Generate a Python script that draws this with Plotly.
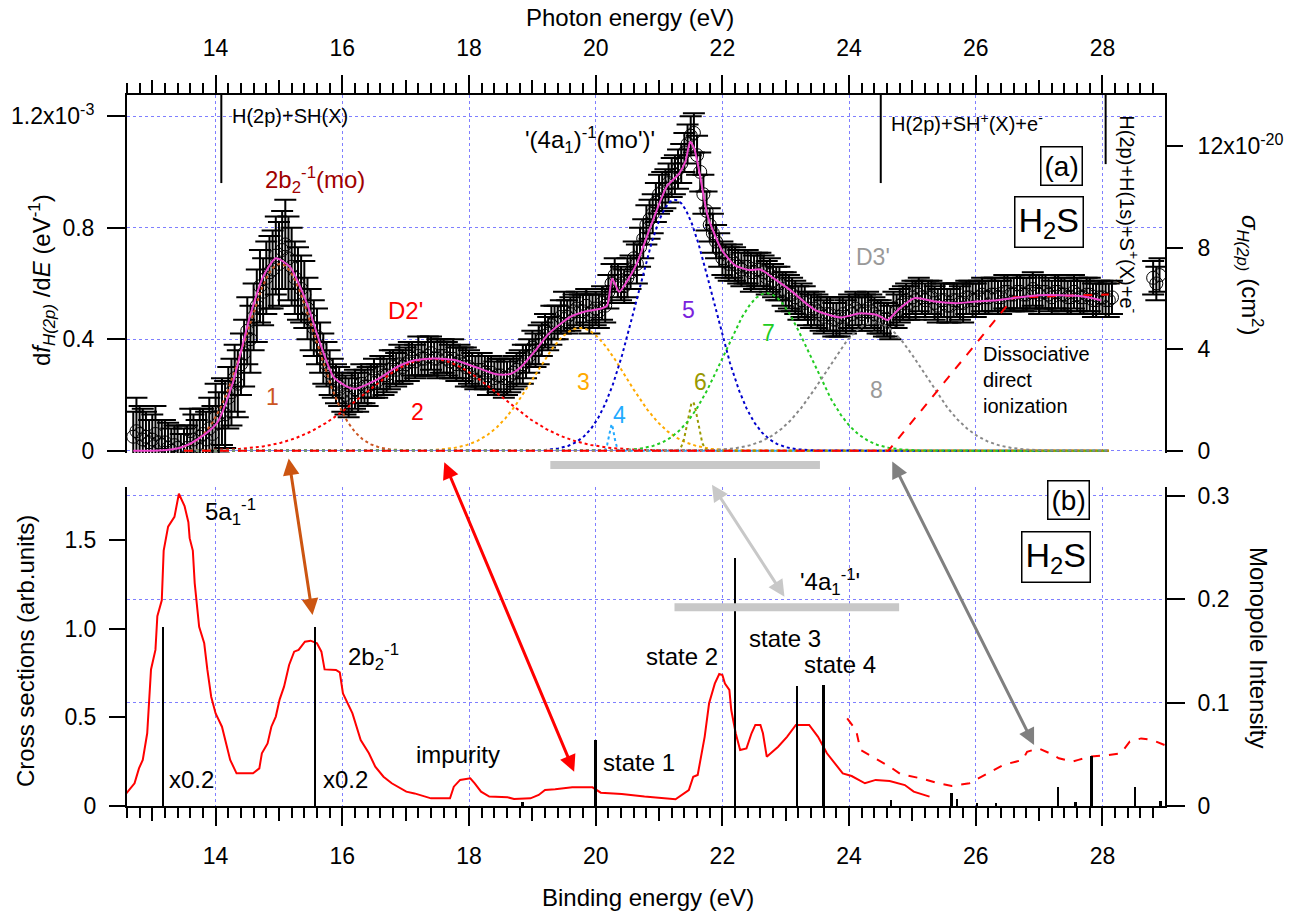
import numpy as np
import plotly.graph_objects as go

FONT = "Liberation Sans, Arial, Helvetica, sans-serif"
GRID = "#7f7fff"

# ---------------- panel (a): H(2p) emission ----------------
photon_energy = [round(12.7 + 0.05 * i, 2) for i in range(310)] + [28.80, 28.85, 28.90]

# df_H(2p)/dE in units of 1e-3 eV^-1
dfdE = [0.05, 0.07, 0.06, 0.04, 0.05, 0.03, 0.04, 0.06, 0.03, 0.02,
        0.03, 0.01, 0.00, 0.02, 0.01, -0.01, 0.00, 0.01, 0.07, 0.04,
        0.02, 0.05, 0.06, 0.04, 0.08, 0.06, 0.12, 0.10, 0.14, 0.13,
        0.19, 0.21, 0.26, 0.24, 0.31, 0.35, 0.43, 0.40, 0.48, 0.52,
        0.59, 0.57, 0.62, 0.64, 0.65, 0.70, 0.67, 0.72, 0.74, 0.69,
        0.66, 0.62, 0.60, 0.58, 0.56, 0.51, 0.47, 0.44, 0.41, 0.37,
        0.33, 0.31, 0.28, 0.26, 0.24, 0.23, 0.21, 0.20, 0.19, 0.21,
        0.22, 0.21, 0.24, 0.23, 0.23, 0.25, 0.26, 0.25, 0.28, 0.27,
        0.27, 0.29, 0.30, 0.29, 0.31, 0.30, 0.31, 0.32, 0.33, 0.32,
        0.34, 0.33, 0.33, 0.34, 0.35, 0.33, 0.33, 0.34, 0.34, 0.33,
        0.32, 0.33, 0.31, 0.32, 0.31, 0.30, 0.30, 0.29, 0.28, 0.29,
        0.29, 0.28, 0.27, 0.28, 0.26, 0.27, 0.27, 0.26, 0.26, 0.27,
        0.28, 0.29, 0.30, 0.31, 0.32, 0.34, 0.37, 0.36, 0.38, 0.40,
        0.43, 0.42, 0.45, 0.46, 0.46, 0.48, 0.50, 0.48, 0.49, 0.50,
        0.51, 0.50, 0.50, 0.52, 0.49, 0.50, 0.51, 0.50, 0.53, 0.52,
        0.57, 0.60, 0.63, 0.61, 0.60, 0.59, 0.62, 0.64, 0.69, 0.67,
        0.73, 0.76, 0.81, 0.83, 0.85, 0.89, 0.92, 0.93, 0.94, 0.96,
        0.98, 0.99, 1.01, 1.03, 1.07, 1.10, 1.13, 1.14, 1.06, 1.00,
        0.92, 0.86, 0.81, 0.78, 0.75, 0.72, 0.69, 0.68, 0.67, 0.68,
        0.67, 0.66, 0.65, 0.66, 0.66, 0.64, 0.64, 0.65, 0.65, 0.64,
        0.62, 0.63, 0.61, 0.60, 0.60, 0.58, 0.57, 0.57, 0.56, 0.55,
        0.53, 0.54, 0.53, 0.51, 0.50, 0.51, 0.50, 0.49, 0.48, 0.49,
        0.49, 0.47, 0.47, 0.48, 0.49, 0.48, 0.50, 0.49, 0.51, 0.50,
        0.49, 0.50, 0.51, 0.50, 0.49, 0.48, 0.48, 0.47, 0.47, 0.46,
        0.51, 0.50, 0.52, 0.53, 0.54, 0.53, 0.55, 0.54, 0.56, 0.55,
        0.54, 0.55, 0.55, 0.53, 0.52, 0.54, 0.54, 0.52, 0.52, 0.54,
        0.54, 0.53, 0.53, 0.55, 0.55, 0.54, 0.54, 0.55, 0.56, 0.55,
        0.55, 0.56, 0.56, 0.55, 0.55, 0.57, 0.57, 0.56, 0.56, 0.57,
        0.57, 0.56, 0.56, 0.57, 0.58, 0.57, 0.56, 0.57, 0.57, 0.56,
        0.55, 0.57, 0.57, 0.56, 0.56, 0.55, 0.55, 0.57, 0.56, 0.55,
        0.55, 0.56, 0.56, 0.54, 0.54, 0.55, 0.55, 0.54, 0.54, 0.55,
        0.62, 0.60, 0.63]

dfdE_err = [0.09, 0.12, 0.10, 0.11, 0.09, 0.08, 0.09, 0.10, 0.08, 0.09,
            0.08, 0.09, 0.08, 0.07, 0.08, 0.07, 0.08, 0.08, 0.08, 0.09,
            0.09, 0.10, 0.09, 0.10, 0.11, 0.10, 0.12, 0.11, 0.12, 0.12,
            0.11, 0.12, 0.12, 0.12, 0.11, 0.12, 0.12, 0.12, 0.12, 0.13,
            0.13, 0.12, 0.13, 0.13, 0.14, 0.14, 0.15, 0.14, 0.16, 0.15,
            0.14, 0.13, 0.13, 0.12, 0.12, 0.11, 0.11, 0.10, 0.10, 0.09,
            0.09, 0.08, 0.08, 0.07, 0.07, 0.07, 0.07, 0.07, 0.07, 0.07,
            0.07, 0.07, 0.07, 0.06, 0.07, 0.06, 0.07, 0.06, 0.06, 0.07,
            0.06, 0.07, 0.06, 0.06, 0.07, 0.06, 0.06, 0.07, 0.06, 0.06,
            0.07, 0.06, 0.06, 0.07, 0.06, 0.06, 0.07, 0.06, 0.06, 0.06,
            0.06, 0.07, 0.06, 0.06, 0.06, 0.07, 0.06, 0.06, 0.06, 0.06,
            0.06, 0.06, 0.07, 0.06, 0.06, 0.06, 0.06, 0.07, 0.06, 0.06,
            0.06, 0.06, 0.06, 0.07, 0.06, 0.06, 0.06, 0.06, 0.07, 0.06,
            0.06, 0.06, 0.07, 0.06, 0.06, 0.06, 0.07, 0.06, 0.06, 0.06,
            0.06, 0.06, 0.06, 0.06, 0.07, 0.06, 0.06, 0.06, 0.06, 0.06,
            0.06, 0.07, 0.06, 0.06, 0.06, 0.06, 0.07, 0.06, 0.06, 0.07,
            0.07, 0.07, 0.07, 0.07, 0.07, 0.07, 0.07, 0.07, 0.07, 0.07,
            0.07, 0.07, 0.07, 0.07, 0.07, 0.07, 0.07, 0.07, 0.07, 0.07,
            0.07, 0.07, 0.06, 0.07, 0.06, 0.06, 0.06, 0.06, 0.06, 0.06,
            0.06, 0.06, 0.06, 0.06, 0.06, 0.07, 0.06, 0.06, 0.06, 0.06,
            0.06, 0.06, 0.06, 0.06, 0.06, 0.06, 0.07, 0.06, 0.06, 0.06,
            0.06, 0.06, 0.06, 0.06, 0.06, 0.06, 0.06, 0.06, 0.06, 0.06,
            0.06, 0.06, 0.06, 0.07, 0.06, 0.06, 0.06, 0.06, 0.06, 0.06,
            0.06, 0.06, 0.06, 0.06, 0.06, 0.06, 0.06, 0.06, 0.06, 0.06,
            0.06, 0.06, 0.06, 0.06, 0.06, 0.06, 0.06, 0.07, 0.06, 0.06,
            0.06, 0.06, 0.06, 0.06, 0.06, 0.06, 0.06, 0.06, 0.06, 0.06,
            0.06, 0.06, 0.07, 0.06, 0.06, 0.06, 0.06, 0.06, 0.06, 0.06,
            0.06, 0.06, 0.06, 0.06, 0.06, 0.06, 0.06, 0.06, 0.06, 0.06,
            0.06, 0.06, 0.06, 0.06, 0.06, 0.06, 0.07, 0.06, 0.06, 0.06,
            0.06, 0.06, 0.06, 0.06, 0.06, 0.06, 0.06, 0.06, 0.06, 0.06,
            0.06, 0.06, 0.06, 0.06, 0.06, 0.06, 0.06, 0.06, 0.06, 0.06,
            0.06, 0.06, 0.06]

# total fit (1e-3 eV^-1)
fit_x = [12.7, 13.0, 13.3, 13.5, 13.75, 14.02, 14.27, 14.54, 14.75, 14.95, 15.17,
         15.44, 15.65, 15.86, 16.07, 16.2, 16.54, 16.86, 17.1, 17.44, 17.77, 18.1,
         18.43, 18.65, 18.82, 19.05, 19.26, 19.6, 19.85, 20.09, 20.18, 20.26, 20.37,
         20.5, 20.65, 20.86, 21.12, 21.32, 21.42, 21.49, 21.56, 21.64, 21.77, 21.99,
         22.2, 22.42, 22.6, 22.8, 23.07, 23.46, 23.86, 24.18, 24.44, 24.61, 24.77,
         25.03, 25.36, 25.69, 26.0, 26.34, 27.0, 27.64, 27.98]
fit_y = [0.0, 0.0, 0.004, 0.015, 0.046, 0.099, 0.243, 0.48, 0.624, 0.69, 0.66,
         0.529, 0.385, 0.265, 0.23, 0.222, 0.254, 0.30, 0.322, 0.331, 0.325, 0.30,
         0.274, 0.275, 0.30, 0.36, 0.42, 0.48, 0.50, 0.51, 0.52, 0.618, 0.57,
         0.61, 0.672, 0.80, 0.947, 0.995, 1.04, 1.108, 1.08, 0.995, 0.84, 0.72,
         0.665, 0.648, 0.65, 0.62, 0.576, 0.505, 0.478, 0.493, 0.487, 0.469, 0.505,
         0.547, 0.535, 0.529, 0.535, 0.54, 0.558, 0.555, 0.54]

# Gaussian components 1-8 (centre eV, height 1e-3 eV^-1, sigma eV)
comp_center = [15.02, 17.40, 19.75, 20.25, 21.25, 21.53, 22.70, 24.40]
comp_height = [0.67, 0.33, 0.44, 0.095, 0.90, 0.175, 0.565, 0.46]
comp_sigma = [0.55, 1.07, 0.72, 0.04, 0.60, 0.08, 0.68, 0.78]
comp_color = ["#cc5522", "#ff0000", "#ffaa00", "#22aaff", "#0000cc", "#999900", "#22cc22", "#888888"]
comp_label_color = ["#cc5522", "#ff0000", "#ffaa00", "#22aaff", "#7a22dd", "#999900", "#22cc22", "#999999"]
comp_label_x = [14.89, 17.19, 19.80, 20.37, 21.47, 21.65, 22.73, 24.44]
comp_label_y = [0.193, 0.140, 0.247, 0.128, 0.505, 0.247, 0.421, 0.218]

# dissociative direct ionization onset (1e-3 eV^-1)
di_x = [13.5, 24.62, 26.60, 28.10]
di_y = [0.0, 0.0, 0.55, 0.56]

# dissociation thresholds (eV) and lower ends of their markers (1e-3 eV^-1)
thr_energy = [14.09, 24.50, 28.05]
thr_bottom = [0.96, 0.96, 1.028]

# ---------------- panel (b): photoelectron spectrum ----------------
pes_x = [12.59, 12.72, 12.79, 12.85, 12.92, 12.98, 13.05, 13.08, 13.15, 13.18, 13.25,
         13.35, 13.42, 13.51, 13.57, 13.59, 13.64, 13.67, 13.74, 13.82, 13.87, 13.93,
         14.0, 14.1, 14.23, 14.33, 14.59, 14.69, 14.73, 14.82, 14.88, 14.95, 15.01,
         15.08, 15.16, 15.24, 15.31, 15.41, 15.5, 15.6, 15.67, 15.72, 15.9, 15.96,
         16.01, 16.16, 16.29, 16.42, 16.52, 16.65, 16.78, 17.01, 17.14, 17.4, 17.7,
         17.76, 17.86, 18.02, 18.09, 18.19, 18.32, 18.61, 18.71, 18.97, 19.1, 19.2,
         19.36, 19.63, 19.95, 20.08, 20.41, 20.77, 21.26, 21.47, 21.54, 21.61, 21.72,
         21.79, 21.88, 21.95, 22.0, 22.04, 22.11, 22.14, 22.21, 22.28, 22.38, 22.46,
         22.52, 22.6, 22.64, 22.7, 22.88, 23.02, 23.16, 23.37, 23.51, 23.65, 23.9,
         24.04, 24.25, 24.42, 24.64, 24.88, 25.02, 25.27]
pes_y = [0.071, 0.128, 0.212, 0.26, 0.41, 0.77, 0.88, 1.07, 1.16, 1.44, 1.575,
         1.63, 1.76, 1.69, 1.60, 1.51, 1.44, 1.255, 1.01, 0.917, 0.767, 0.616,
         0.522, 0.447, 0.26, 0.184, 0.184, 0.212, 0.297, 0.353, 0.447, 0.504, 0.60,
         0.673, 0.795, 0.87, 0.88, 0.926, 0.932, 0.917, 0.87, 0.77, 0.767, 0.753,
         0.635, 0.522, 0.372, 0.297, 0.222, 0.165, 0.128, 0.081, 0.071, 0.043, 0.043,
         0.109, 0.147, 0.156, 0.128, 0.081, 0.053, 0.049, 0.039, 0.043, 0.062, 0.09,
         0.094, 0.105, 0.105, 0.075, 0.068, 0.053, 0.038, 0.09, 0.165, 0.175, 0.39,
         0.579, 0.69, 0.744, 0.738, 0.69, 0.654, 0.541, 0.41, 0.316, 0.325, 0.41,
         0.457, 0.457, 0.41, 0.278, 0.334, 0.39, 0.457, 0.457, 0.39, 0.297, 0.184,
         0.169, 0.128, 0.147, 0.141, 0.118, 0.081, 0.053]

pes_hi_x = [23.97, 24.11, 24.18, 24.36, 24.64, 24.81, 25.13, 25.41, 25.62, 25.9, 26.18,
            26.43, 26.74, 26.81, 26.99, 27.17, 27.31, 27.52, 27.62, 27.8, 28.08, 28.29,
            28.43, 28.61, 28.78, 28.98]
pes_hi_y = [0.494, 0.428, 0.316, 0.278, 0.222, 0.18, 0.156, 0.128, 0.113, 0.128, 0.184,
            0.231, 0.26, 0.306, 0.325, 0.297, 0.269, 0.25, 0.26, 0.278, 0.287, 0.297,
            0.363, 0.381, 0.372, 0.344]

# monopole intensities of the calculated states
stick_x = [13.17, 15.57, 18.85, 20.0, 22.2, 23.18, 23.6, 24.67, 25.62, 25.71, 26.02,
           26.32, 27.3, 27.58, 27.83, 28.52, 28.92]
stick_h = [0.174, 0.174, 0.004, 0.0645, 0.24, 0.116, 0.117, 0.006, 0.013, 0.0075, 0.003,
           0.003, 0.019, 0.004, 0.049, 0.019, 0.005]

# energy ranges marked by grey bands (eV)
band_lo = [19.26, 21.22]
band_hi = [23.54, 24.79]

# correspondence arrows, ends in cross-section units of panel (b)
arrow_x0 = [15.15, 17.60, 21.82, 24.67]
arrow_y0 = [1.967, 1.946, 1.82, 1.95]
arrow_x1 = [15.53, 19.66, 22.98, 26.92]
arrow_y1 = [1.077, 0.193, 1.18, 0.344]
arrow_color = ["#cc5511", "#ff0000", "#c8c8c8", "#808080"]

# ---------------- figure ----------------
XR = [12.601, 28.987]
YA = [-0.00825e-3, 1.2759e-3]
YA_R = [-0.0906e-20, 14.018e-20]

fig = go.Figure()

e_a = np.array(photon_energy)
fig.add_trace(go.Scatter(
    x=e_a, y=np.array(dfdE) * 1e-3, mode="markers", xaxis="x2", yaxis="y3",
    marker=dict(symbol="circle-open", size=13, color="black", line=dict(width=1)),
    error_y=dict(type="data", array=np.array(dfdE_err) * 1e-3, color="black",
                 thickness=2, width=11),
    showlegend=False))

grid_e = np.linspace(13.5, 28.1, 1461)
for c, h, s, col in zip(comp_center, comp_height, comp_sigma, comp_color):
    g = h * 1e-3 * np.exp(-0.5 * ((grid_e - c) / s) ** 2)
    fig.add_trace(go.Scatter(x=grid_e, y=g, mode="lines", xaxis="x2", yaxis="y3",
                             line=dict(color=col, width=2, dash="dot"), showlegend=False))

fig.add_trace(go.Scatter(x=di_x, y=np.array(di_y) * 1e-3, mode="lines", xaxis="x2", yaxis="y3",
                         line=dict(color="#ff0000", width=2, dash="dash"), showlegend=False))

fig.add_trace(go.Scatter(x=fit_x, y=np.array(fit_y) * 1e-3, mode="lines", xaxis="x2", yaxis="y3",
                         line=dict(color="#ee44cc", width=2, shape="spline", smoothing=0.6),
                         showlegend=False))

fig.add_trace(go.Scatter(x=pes_x, y=pes_y, mode="lines", xaxis="x", yaxis="y",
                         line=dict(color="#ff0000", width=2), showlegend=False))
fig.add_trace(go.Scatter(x=pes_hi_x, y=pes_hi_y, mode="lines", xaxis="x", yaxis="y",
                         line=dict(color="#ff0000", width=2, dash="dash"), showlegend=False))
fig.add_trace(go.Bar(x=stick_x, y=stick_h, width=0.028, xaxis="x", yaxis="y2",
                     marker=dict(color="black", line=dict(width=0)), showlegend=False))

# empty traces so that the secondary axes get drawn
for xa, ya in [("x2", "y4"), ("x3", "y"), ("x4", "y3")]:
    fig.add_trace(go.Scatter(x=[], y=[], xaxis=xa, yaxis=ya, showlegend=False,
                             hoverinfo="skip"))

# threshold markers
shapes = []
for e, yb in zip(thr_energy, thr_bottom):
    shapes.append(dict(type="line", xref="x2", yref="y3", x0=e, x1=e, y0=yb * 1e-3, y1=YA[1],
                       line=dict(color="black", width=2)))

tickfont = dict(family=FONT, size=23, color="black")
base = dict(showline=True, linecolor="black", linewidth=2, ticks="outside", tickcolor="black",
            tickwidth=2, tickfont=tickfont, zeroline=False, showgrid=False)
minor = dict(ticks="outside", ticklen=10, tickwidth=1.5, tickcolor="black", dtick=0.2, tick0=0)

fig.update_layout(
    width=1298, height=913, autosize=False,
    margin=dict(l=127, r=133, t=95, b=107),
    paper_bgcolor="white", plot_bgcolor="white",
    font=dict(family=FONT, color="black"),
    bargap=0,
    xaxis=dict(base, domain=[0, 1], anchor="y", range=XR, tickmode="linear", tick0=0, dtick=2,
               ticklen=18, minor=minor, showgrid=True, gridcolor=GRID, griddash="dot",
               gridwidth=1, ticklabelstandoff=10),
    xaxis3=dict(overlaying="x", anchor="y", side="bottom", range=XR, tickmode="linear",
                tick0=1, dtick=2, ticks="outside", ticklen=14, tickwidth=1.5, tickcolor="black",
                showticklabels=False, showline=False, showgrid=False, zeroline=False),
    xaxis2=dict(base, domain=[0, 1], anchor="y3", side="top", range=XR, tickmode="linear",
                tick0=0, dtick=2, ticklen=18, minor=minor, showgrid=True, gridcolor=GRID,
                griddash="dot", gridwidth=1, ticklabelstandoff=10),
    xaxis4=dict(overlaying="x2", anchor="y3", side="top", range=XR, tickmode="linear",
                tick0=1, dtick=2, ticks="outside", ticklen=14, tickwidth=1.5, tickcolor="black",
                showticklabels=False, showline=False, showgrid=False, zeroline=False),
    yaxis=dict(base, domain=[0, 0.4491], anchor="x", range=[0, 1.8], tickmode="array",
               tickvals=[0, 0.5, 1.0, 1.5], ticktext=["0", "0.5", "1.0", "1.5"], ticklen=16,
               ticklabelstandoff=8),
    yaxis2=dict(base, overlaying="y", anchor="x", side="right", range=[0, 0.309],
                tickmode="array", tickvals=[0, 0.1, 0.2, 0.3], ticktext=["0", "0.1", "0.2", "0.3"],
                ticklen=18, showgrid=True, gridcolor=GRID, griddash="dot", gridwidth=1,
                ticklabelstandoff=8),
    yaxis3=dict(base, domain=[0.4965, 1], anchor="x2", range=YA, tickmode="array",
                tickvals=[0, 0.4e-3, 0.8e-3, 1.2e-3],
                ticktext=["0", "0.4", "0.8", "1.2x10<sup>-3</sup>"], ticklen=18,
                showgrid=True, gridcolor=GRID, griddash="dot", gridwidth=1, ticklabelstandoff=8),
    yaxis4=dict(base, overlaying="y3", anchor="x2", side="right", range=YA_R, tickmode="array",
                tickvals=[0, 4e-20, 8e-20, 12e-20],
                ticktext=["0", "4", "8", "12x10<sup>-20</sup>"], ticklen=16, ticklabelstandoff=10),
    shapes=shapes,
)

ann = []


def label(x, y, text, xref="x2", yref="y3", size=23, color="black", xanchor="center",
          yanchor="middle", angle=0, box=False, pad=0, align="center"):
    d = dict(x=x, y=y, xref=xref, yref=yref, text=text, showarrow=False, xanchor=xanchor,
             yanchor=yanchor, textangle=angle, align=align,
             font=dict(family=FONT, size=size, color=color))
    if box:
        d.update(bordercolor="black", borderwidth=1.5, borderpad=pad, bgcolor="white")
    ann.append(d)


# axis titles (paper coordinates)
label(0.4846, 1.1083, "Photon energy (eV)", "paper", "paper", size=24)
label(0.502, -0.128, "Binding energy (eV)", "paper", "paper", size=24)
label(-0.0819, 0.7398, "d<i>f</i><sub><i>H(2p)</i></sub> /d<i>E</i> (eV<sup>-1</sup>)",
      "paper", "paper", size=24, angle=-90)
label(1.0819, 0.7468, "<i>σ</i><sub><i>H(2p)</i></sub> (cm<sup>2</sup>)", "paper", "paper",
      size=24, angle=90)
label(-0.0983, 0.218, "Cross sections (arb.units)", "paper", "paper", size=24, angle=-90)
label(1.0906, 0.2236, "Monopole Intensity", "paper", "paper", size=24, angle=90)

# panel (a) labels
label(15.57, 0.971e-3, "2b<sub>2</sub><sup>-1</sup>(mo)", color="#a00000", size=24)
label(16.99, 0.504e-3, "D2'", color="#ff0000", size=24)
label(19.91, 1.114e-3, "'(4a<sub>1</sub>)<sup>-1</sup>(mo')'", size=24)
label(14.23, 1.2e-3, "H(2p)+SH(X)", size=20, xanchor="left")
label(24.63, 1.179e-3, "H(2p)+SH<sup>+</sup>(X)+e<sup>-</sup>", size=20, xanchor="left")
label(28.43, 0.849e-3, "H(2p)+H(1s)+S<sup>+</sup>(X)+e<sup>-</sup>", size=20, angle=90)
label(27.35, 1.02e-3, "(a)", size=28, box=True, pad=3)
label(27.16, 0.821e-3, "H<sub>2</sub>S", size=34, box=True, pad=3)
label(24.38, 0.695e-3, "D3'", color="#999999", size=23)
label(26.08, 0.254e-3, "Dissociative<br>direct<br>ionization", size=20, xanchor="left",
      align="left")
for i, (lx, ly, lc) in enumerate(zip(comp_label_x, comp_label_y, comp_label_color)):
    label(lx, ly * 1e-3, str(i + 1), color=lc, size=23)

# panel (b) labels
label(13.8, 1.66, "5a<sub>1</sub><sup>-1</sup>", "x", "y", size=24, xanchor="left")
label(13.24, 0.147, "x0.2", "x", "y", size=24, xanchor="left")
label(15.66, 0.147, "x0.2", "x", "y", size=24, xanchor="left")
label(16.06, 0.842, "2b<sub>2</sub><sup>-1</sup>", "x", "y", size=24, xanchor="left")
label(17.13, 0.288, "impurity", "x", "y", size=24, xanchor="left")
label(20.08, 0.248, "state 1", "x", "y", size=24, xanchor="left")
label(20.77, 0.84, "state 2", "x", "y", size=24, xanchor="left")
label(22.39, 0.947, "state 3", "x", "y", size=24, xanchor="left")
label(23.26, 0.795, "state 4", "x", "y", size=24, xanchor="left")
label(23.19, 1.263, "'4a<sub>1</sub><sup>-1</sup>'", "x", "y", size=24, xanchor="left")
label(27.46, 1.725, "(b)", "x", "y", size=28, box=True, pad=3)
label(27.27, 1.405, "H<sub>2</sub>S", "x", "y", size=34, box=True, pad=3)

# grey bands: (a) just below the zero line of panel (a), (b) inside panel (b)
ann.append(dict(x=band_hi[0], y=0.4796, xref="x", yref="paper", ax=band_lo[0], ay=0,
                axref="x", ayref="pixel", text="", showarrow=True, arrowhead=0,
                arrowwidth=8, arrowcolor="#c8c8c8", standoff=0))
ann.append(dict(x=band_hi[1], y=1.12, xref="x", yref="y", ax=band_lo[1], ay=1.12,
                axref="x", ayref="y", text="", showarrow=True, arrowhead=0,
                arrowwidth=8, arrowcolor="#c8c8c8", standoff=0))

# double-headed correspondence arrows
for x0, y0, x1, y1, col in zip(arrow_x0, arrow_y0, arrow_x1, arrow_y1, arrow_color):
    ann.append(dict(x=x1, y=y1, xref="x", yref="y", ax=x0, ay=y0, axref="x", ayref="y",
                    text="", showarrow=True, arrowside="end+start", arrowhead=2,
                    startarrowhead=2, arrowsize=1.1, startarrowsize=1.1, arrowwidth=3,
                    arrowcolor=col, standoff=0, startstandoff=0))

fig.update_layout(annotations=ann)
fig.write_html("out.html")
